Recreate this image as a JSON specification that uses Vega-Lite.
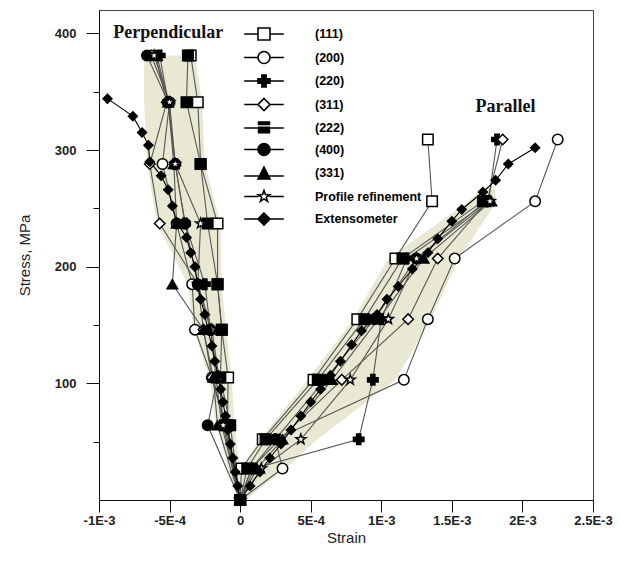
{
  "$schema": "https://vega.github.io/schema/vega-lite/v6.json",
  "autosize": "none",
  "width": 494,
  "height": 490,
  "padding": {"left": 99, "top": 10, "right": 28, "bottom": 66},
  "background": "white",
  "config": {
    "view": {"stroke": "#444", "strokeWidth": 1},
    "axis": {"grid": false, "domainColor": "#111", "tickColor": "#111", "labelFont": "Liberation Sans", "labelFontSize": 13, "labelFontWeight": "bold", "labelColor": "#222", "titleFont": "Liberation Sans", "titleFontSize": 15, "titleFontWeight": "normal", "titleColor": "#222"}
  },
  "resolve": {"scale": {"shape": "independent", "fill": "independent"}, "legend": {"shape": "independent", "fill": "independent"}},
  "datasets": {
    "band": [
      {"d": "P", "y": 0, "lo": -2e-5, "hi": 3e-5},
      {"d": "P", "y": 64, "lo": -1.7e-4, "hi": -4e-5},
      {"d": "P", "y": 105, "lo": -2.2e-4, "hi": -6e-5},
      {"d": "P", "y": 146, "lo": -3.3e-4, "hi": -1.0e-4},
      {"d": "P", "y": 185, "lo": -3.7e-4, "hi": -1.3e-4},
      {"d": "P", "y": 237, "lo": -5.9e-4, "hi": -1.4e-4},
      {"d": "P", "y": 288, "lo": -6.6e-4, "hi": -2.5e-4},
      {"d": "P", "y": 341, "lo": -6.8e-4, "hi": -2.7e-4},
      {"d": "P", "y": 381, "lo": -6.8e-4, "hi": -3.2e-4},
      {"d": "L", "y": 0, "lo": 0, "hi": 4e-5},
      {"d": "L", "y": 27, "lo": 1e-5, "hi": 3.2e-4},
      {"d": "L", "y": 52, "lo": 1.4e-4, "hi": 5.5e-4},
      {"d": "L", "y": 103, "lo": 4.8e-4, "hi": 1.1e-3},
      {"d": "L", "y": 155, "lo": 8.0e-4, "hi": 1.35e-3},
      {"d": "L", "y": 207, "lo": 1.05e-3, "hi": 1.55e-3},
      {"d": "L", "y": 256, "lo": 1.62e-3, "hi": 1.82e-3},
      {"d": "L", "y": 268, "lo": 1.72e-3, "hi": 1.8e-3}
    ],
    "txt": [
      {"t": "Perpendicular", "x": -5.1e-4, "y": 400},
      {"t": "Parallel", "x": 1.88e-3, "y": 337}
    ],
    "pts": [
      {"s": "(111)", "d": "P", "x": 0, "y": 0},
      {"s": "(111)", "d": "P", "x": -9e-5, "y": 64},
      {"s": "(111)", "d": "P", "x": -8.5e-5, "y": 105},
      {"s": "(111)", "d": "P", "x": -1.3e-4, "y": 146},
      {"s": "(111)", "d": "P", "x": -1.6e-4, "y": 185},
      {"s": "(111)", "d": "P", "x": -1.6e-4, "y": 237},
      {"s": "(111)", "d": "P", "x": -2.8e-4, "y": 288},
      {"s": "(111)", "d": "P", "x": -3.0e-4, "y": 341},
      {"s": "(111)", "d": "P", "x": -3.5e-4, "y": 381},
      {"s": "(200)", "d": "P", "x": 0, "y": 0},
      {"s": "(200)", "d": "P", "x": -1.0e-4, "y": 64},
      {"s": "(200)", "d": "P", "x": -2.0e-4, "y": 105},
      {"s": "(200)", "d": "P", "x": -3.2e-4, "y": 146},
      {"s": "(200)", "d": "P", "x": -3.4e-4, "y": 185},
      {"s": "(200)", "d": "P", "x": -4.5e-4, "y": 237},
      {"s": "(200)", "d": "P", "x": -5.5e-4, "y": 288},
      {"s": "(200)", "d": "P", "x": -5.0e-4, "y": 341},
      {"s": "(200)", "d": "P", "x": -6.3e-4, "y": 381},
      {"s": "(220)", "d": "P", "x": 0, "y": 0},
      {"s": "(220)", "d": "P", "x": -1.3e-4, "y": 64},
      {"s": "(220)", "d": "P", "x": -1.7e-4, "y": 105},
      {"s": "(220)", "d": "P", "x": -2.1e-4, "y": 146},
      {"s": "(220)", "d": "P", "x": -2.5e-4, "y": 185},
      {"s": "(220)", "d": "P", "x": -3.9e-4, "y": 237},
      {"s": "(220)", "d": "P", "x": -4.6e-4, "y": 288},
      {"s": "(220)", "d": "P", "x": -5.1e-4, "y": 341},
      {"s": "(220)", "d": "P", "x": -5.7e-4, "y": 381},
      {"s": "(311)", "d": "P", "x": 0, "y": 0},
      {"s": "(311)", "d": "P", "x": -1.1e-4, "y": 64},
      {"s": "(311)", "d": "P", "x": -2.0e-4, "y": 105},
      {"s": "(311)", "d": "P", "x": -2.6e-4, "y": 146},
      {"s": "(311)", "d": "P", "x": -3.0e-4, "y": 185},
      {"s": "(311)", "d": "P", "x": -5.7e-4, "y": 237},
      {"s": "(311)", "d": "P", "x": -6.4e-4, "y": 288},
      {"s": "(311)", "d": "P", "x": -5.2e-4, "y": 341},
      {"s": "(311)", "d": "P", "x": -6.0e-4, "y": 381},
      {"s": "(222)", "d": "P", "x": 0, "y": 0},
      {"s": "(222)", "d": "P", "x": -7e-5, "y": 64},
      {"s": "(222)", "d": "P", "x": -1.4e-4, "y": 105},
      {"s": "(222)", "d": "P", "x": -1.3e-4, "y": 146},
      {"s": "(222)", "d": "P", "x": -1.6e-4, "y": 185},
      {"s": "(222)", "d": "P", "x": -2.3e-4, "y": 237},
      {"s": "(222)", "d": "P", "x": -2.8e-4, "y": 288},
      {"s": "(222)", "d": "P", "x": -3.8e-4, "y": 341},
      {"s": "(222)", "d": "P", "x": -3.7e-4, "y": 381},
      {"s": "(400)", "d": "P", "x": 0, "y": 0},
      {"s": "(400)", "d": "P", "x": -2.3e-4, "y": 64},
      {"s": "(400)", "d": "P", "x": -1.6e-4, "y": 105},
      {"s": "(400)", "d": "P", "x": -2.1e-4, "y": 146},
      {"s": "(400)", "d": "P", "x": -3.0e-4, "y": 185},
      {"s": "(400)", "d": "P", "x": -3.9e-4, "y": 237},
      {"s": "(400)", "d": "P", "x": -4.6e-4, "y": 288},
      {"s": "(400)", "d": "P", "x": -5.1e-4, "y": 341},
      {"s": "(400)", "d": "P", "x": -6.6e-4, "y": 381},
      {"s": "(331)", "d": "P", "x": 0, "y": 0},
      {"s": "(331)", "d": "P", "x": -1.6e-4, "y": 64},
      {"s": "(331)", "d": "P", "x": -1.9e-4, "y": 105},
      {"s": "(331)", "d": "P", "x": -2.6e-4, "y": 146},
      {"s": "(331)", "d": "P", "x": -4.8e-4, "y": 185},
      {"s": "(331)", "d": "P", "x": -4.5e-4, "y": 237},
      {"s": "(331)", "d": "P", "x": -4.7e-4, "y": 288},
      {"s": "(331)", "d": "P", "x": -5.1e-4, "y": 341},
      {"s": "(331)", "d": "P", "x": -5.9e-4, "y": 381},
      {"s": "Profile refinement", "d": "P", "x": 0, "y": 0},
      {"s": "Profile refinement", "d": "P", "x": -1.2e-4, "y": 64},
      {"s": "Profile refinement", "d": "P", "x": -1.5e-4, "y": 105},
      {"s": "Profile refinement", "d": "P", "x": -2.0e-4, "y": 146},
      {"s": "Profile refinement", "d": "P", "x": -3.0e-4, "y": 185},
      {"s": "Profile refinement", "d": "P", "x": -2.8e-4, "y": 237},
      {"s": "Profile refinement", "d": "P", "x": -4.6e-4, "y": 288},
      {"s": "Profile refinement", "d": "P", "x": -5.0e-4, "y": 341},
      {"s": "Profile refinement", "d": "P", "x": -6.1e-4, "y": 381},
      {"s": "(111)", "d": "L", "x": 0, "y": 0},
      {"s": "(111)", "d": "L", "x": 1e-5, "y": 27},
      {"s": "(111)", "d": "L", "x": 1.6e-4, "y": 52},
      {"s": "(111)", "d": "L", "x": 5.2e-4, "y": 103},
      {"s": "(111)", "d": "L", "x": 8.3e-4, "y": 155},
      {"s": "(111)", "d": "L", "x": 1.10e-3, "y": 207},
      {"s": "(111)", "d": "L", "x": 1.36e-3, "y": 256},
      {"s": "(111)", "d": "L", "x": 1.33e-3, "y": 309},
      {"s": "(200)", "d": "L", "x": 0, "y": 0},
      {"s": "(200)", "d": "L", "x": 3.0e-4, "y": 27},
      {"s": "(200)", "d": "L", "x": 2.5e-4, "y": 52},
      {"s": "(200)", "d": "L", "x": 1.16e-3, "y": 103},
      {"s": "(200)", "d": "L", "x": 1.33e-3, "y": 155},
      {"s": "(200)", "d": "L", "x": 1.52e-3, "y": 207},
      {"s": "(200)", "d": "L", "x": 2.09e-3, "y": 256},
      {"s": "(200)", "d": "L", "x": 2.25e-3, "y": 309},
      {"s": "(220)", "d": "L", "x": 0, "y": 0},
      {"s": "(220)", "d": "L", "x": 1.0e-4, "y": 27},
      {"s": "(220)", "d": "L", "x": 8.4e-4, "y": 52},
      {"s": "(220)", "d": "L", "x": 9.4e-4, "y": 103},
      {"s": "(220)", "d": "L", "x": 1.0e-3, "y": 155},
      {"s": "(220)", "d": "L", "x": 1.18e-3, "y": 207},
      {"s": "(220)", "d": "L", "x": 1.76e-3, "y": 256},
      {"s": "(220)", "d": "L", "x": 1.82e-3, "y": 309},
      {"s": "(311)", "d": "L", "x": 0, "y": 0},
      {"s": "(311)", "d": "L", "x": 8e-5, "y": 27},
      {"s": "(311)", "d": "L", "x": 2.8e-4, "y": 52},
      {"s": "(311)", "d": "L", "x": 7.2e-4, "y": 103},
      {"s": "(311)", "d": "L", "x": 1.19e-3, "y": 155},
      {"s": "(311)", "d": "L", "x": 1.40e-3, "y": 207},
      {"s": "(311)", "d": "L", "x": 1.75e-3, "y": 256},
      {"s": "(311)", "d": "L", "x": 1.86e-3, "y": 309},
      {"s": "(222)", "d": "L", "x": 0, "y": 0},
      {"s": "(222)", "d": "L", "x": 5e-5, "y": 27},
      {"s": "(222)", "d": "L", "x": 1.8e-4, "y": 52},
      {"s": "(222)", "d": "L", "x": 5.5e-4, "y": 103},
      {"s": "(222)", "d": "L", "x": 8.8e-4, "y": 155},
      {"s": "(222)", "d": "L", "x": 1.15e-3, "y": 207},
      {"s": "(222)", "d": "L", "x": 1.72e-3, "y": 256},
      {"s": "(400)", "d": "L", "x": 0, "y": 0},
      {"s": "(400)", "d": "L", "x": 8e-5, "y": 27},
      {"s": "(400)", "d": "L", "x": 2.5e-4, "y": 52},
      {"s": "(400)", "d": "L", "x": 6.0e-4, "y": 103},
      {"s": "(400)", "d": "L", "x": 9.5e-4, "y": 155},
      {"s": "(400)", "d": "L", "x": 1.25e-3, "y": 207},
      {"s": "(400)", "d": "L", "x": 1.74e-3, "y": 256},
      {"s": "(331)", "d": "L", "x": 0, "y": 0},
      {"s": "(331)", "d": "L", "x": 1.2e-4, "y": 27},
      {"s": "(331)", "d": "L", "x": 3.0e-4, "y": 52},
      {"s": "(331)", "d": "L", "x": 6.5e-4, "y": 103},
      {"s": "(331)", "d": "L", "x": 9.8e-4, "y": 155},
      {"s": "(331)", "d": "L", "x": 1.30e-3, "y": 207},
      {"s": "(331)", "d": "L", "x": 1.78e-3, "y": 256},
      {"s": "Profile refinement", "d": "L", "x": 0, "y": 0},
      {"s": "Profile refinement", "d": "L", "x": 1.5e-4, "y": 27},
      {"s": "Profile refinement", "d": "L", "x": 4.3e-4, "y": 52},
      {"s": "Profile refinement", "d": "L", "x": 7.8e-4, "y": 103},
      {"s": "Profile refinement", "d": "L", "x": 1.05e-3, "y": 155},
      {"s": "Profile refinement", "d": "L", "x": 1.25e-3, "y": 207},
      {"s": "Profile refinement", "d": "L", "x": 1.77e-3, "y": 256},
      {"s": "Extensometer", "d": "P", "x": 0, "y": 0},
      {"s": "Extensometer", "d": "P", "x": -1.7e-5, "y": 12},
      {"s": "Extensometer", "d": "P", "x": -3.5e-5, "y": 24},
      {"s": "Extensometer", "d": "P", "x": -5.2e-5, "y": 36},
      {"s": "Extensometer", "d": "P", "x": -7.0e-5, "y": 48},
      {"s": "Extensometer", "d": "P", "x": -8.7e-5, "y": 60},
      {"s": "Extensometer", "d": "P", "x": -1.04e-4, "y": 72},
      {"s": "Extensometer", "d": "P", "x": -1.22e-4, "y": 84},
      {"s": "Extensometer", "d": "P", "x": -1.38e-4, "y": 95},
      {"s": "Extensometer", "d": "P", "x": -1.55e-4, "y": 107},
      {"s": "Extensometer", "d": "P", "x": -1.8e-4, "y": 119},
      {"s": "Extensometer", "d": "P", "x": -2.0e-4, "y": 132},
      {"s": "Extensometer", "d": "P", "x": -2.3e-4, "y": 146},
      {"s": "Extensometer", "d": "P", "x": -2.5e-4, "y": 159},
      {"s": "Extensometer", "d": "P", "x": -2.8e-4, "y": 172},
      {"s": "Extensometer", "d": "P", "x": -3.0e-4, "y": 183},
      {"s": "Extensometer", "d": "P", "x": -3.2e-4, "y": 200},
      {"s": "Extensometer", "d": "P", "x": -3.5e-4, "y": 212},
      {"s": "Extensometer", "d": "P", "x": -3.8e-4, "y": 225},
      {"s": "Extensometer", "d": "P", "x": -4.5e-4, "y": 238},
      {"s": "Extensometer", "d": "P", "x": -4.8e-4, "y": 252},
      {"s": "Extensometer", "d": "P", "x": -5.1e-4, "y": 266},
      {"s": "Extensometer", "d": "P", "x": -5.6e-4, "y": 278},
      {"s": "Extensometer", "d": "P", "x": -6.4e-4, "y": 290},
      {"s": "Extensometer", "d": "P", "x": -6.5e-4, "y": 304},
      {"s": "Extensometer", "d": "P", "x": -6.95e-4, "y": 315},
      {"s": "Extensometer", "d": "P", "x": -7.6e-4, "y": 329},
      {"s": "Extensometer", "d": "P", "x": -9.4e-4, "y": 344},
      {"s": "Extensometer", "d": "L", "x": 0, "y": 0},
      {"s": "Extensometer", "d": "L", "x": 7e-5, "y": 12},
      {"s": "Extensometer", "d": "L", "x": 1.4e-4, "y": 24},
      {"s": "Extensometer", "d": "L", "x": 2.1e-4, "y": 36},
      {"s": "Extensometer", "d": "L", "x": 2.9e-4, "y": 48},
      {"s": "Extensometer", "d": "L", "x": 3.6e-4, "y": 60},
      {"s": "Extensometer", "d": "L", "x": 4.3e-4, "y": 72},
      {"s": "Extensometer", "d": "L", "x": 5.0e-4, "y": 84},
      {"s": "Extensometer", "d": "L", "x": 5.7e-4, "y": 95},
      {"s": "Extensometer", "d": "L", "x": 6.4e-4, "y": 107},
      {"s": "Extensometer", "d": "L", "x": 7.1e-4, "y": 119},
      {"s": "Extensometer", "d": "L", "x": 7.9e-4, "y": 133},
      {"s": "Extensometer", "d": "L", "x": 8.6e-4, "y": 145},
      {"s": "Extensometer", "d": "L", "x": 9.7e-4, "y": 159},
      {"s": "Extensometer", "d": "L", "x": 1.04e-3, "y": 172},
      {"s": "Extensometer", "d": "L", "x": 1.12e-3, "y": 183},
      {"s": "Extensometer", "d": "L", "x": 1.22e-3, "y": 198},
      {"s": "Extensometer", "d": "L", "x": 1.33e-3, "y": 212},
      {"s": "Extensometer", "d": "L", "x": 1.40e-3, "y": 224},
      {"s": "Extensometer", "d": "L", "x": 1.50e-3, "y": 239},
      {"s": "Extensometer", "d": "L", "x": 1.57e-3, "y": 249},
      {"s": "Extensometer", "d": "L", "x": 1.72e-3, "y": 264},
      {"s": "Extensometer", "d": "L", "x": 1.81e-3, "y": 274},
      {"s": "Extensometer", "d": "L", "x": 1.90e-3, "y": 288},
      {"s": "Extensometer", "d": "L", "x": 2.09e-3, "y": 302}
    ]
  },
  "layer": [
    {
      "data": {"name": "band"},
      "mark": {"type": "area", "orient": "horizontal", "color": "#e9e8d2", "opacity": 1},
      "encoding": {
        "y": {"field": "y", "type": "quantitative", "scale": {"domain": [0, 420], "nice": false, "zero": false}},
        "x": {"field": "lo", "type": "quantitative", "scale": {"domain": [-0.001, 0.0025], "nice": false, "zero": false}},
        "x2": {"field": "hi"},
        "detail": {"field": "d"}
      }
    },
    {
      "data": {"name": "pts"},
      "mark": {"type": "line", "strokeWidth": 1.1},
      "encoding": {
        "x": {"field": "x", "type": "quantitative"},
        "y": {"field": "y", "type": "quantitative"},
        "detail": [{"field": "s"}, {"field": "d"}],
        "order": {"field": "y", "type": "quantitative"},
        "color": {"condition": {"test": "datum.s == 'Extensometer'", "value": "#000"}, "value": "#555"}
      }
    },
    {
      "data": {"name": "pts"},
      "mark": {"type": "point", "filled": true, "stroke": "black", "strokeWidth": 1.5, "opacity": 1},
      "encoding": {
        "x": {"field": "x", "type": "quantitative", "title": "Strain",
          "axis": {"values": [-0.001, -0.00075, -0.0005, -0.00025, 0, 0.00025, 0.0005, 0.00075, 0.001, 0.00125, 0.0015, 0.00175, 0.002, 0.00225, 0.0025],
            "labelExpr": "abs(round(datum.value*1e4)) % 5 != 0 ? '' : abs(datum.value) < 1e-9 ? '0' : abs(datum.value) < 9e-4 ? (datum.value < 0 ? '-' : '') + round(abs(datum.value)*1e4) + 'E-4' : (datum.value < 0 ? '-' : '') + format(abs(datum.value)*1e3, '~g') + 'E-3'",
            "tickSize": {"condition": {"test": "abs(round(datum.value*1e4)) % 5 != 0", "value": 6}, "value": 12},
            "labelPadding": 2, "titlePadding": 3, "labelFlush": false, "labelOverlap": false}},
        "y": {"field": "y", "type": "quantitative", "title": "Stress, MPa",
          "axis": {"values": [50, 100, 150, 200, 250, 300, 350, 400],
            "labelExpr": "datum.value % 100 == 0 ? datum.value : ''",
            "tickSize": {"condition": {"test": "datum.value % 100 != 0", "value": 6}, "value": 13},
            "labelPadding": 10, "titlePadding": 22, "labelOverlap": false}},
        "shape": {"field": "s", "type": "nominal",
          "scale": {"domain": ["(111)", "(200)", "(220)", "(311)", "(222)", "(400)", "(331)", "Profile refinement", "Extensometer"],
            "range": ["square", "circle", "cross", "diamond", "square", "circle", "triangle-up", "M0,-1L0.235,-0.324L0.951,-0.309L0.38,0.124L0.588,0.809L0,0.4L-0.588,0.809L-0.38,0.124L-0.951,-0.309L-0.235,-0.324Z", "diamond"]},
          "legend": null},
        "fill": {"field": "s", "type": "nominal",
          "scale": {"domain": ["(111)", "(200)", "(220)", "(311)", "(222)", "(400)", "(331)", "Profile refinement", "Extensometer"],
            "range": ["#ffffff", "#ffffff", "#000000", "#ffffff", "#000000", "#000000", "#000000", "#ffffff", "#000000"]},
          "legend": null},
        "size": {"condition": {"test": "datum.s == 'Extensometer'", "value": 80}, "value": 110}
      }
    },
    {
      "data": {"name": "pts"},
      "transform": [{"filter": "datum.y > 9999"}],
      "mark": {"type": "point", "filled": true, "stroke": "black", "strokeWidth": 1.6, "opacity": 1},
      "encoding": {
        "x": {"field": "x", "type": "quantitative"},
        "y": {"field": "y", "type": "quantitative"},
        "shape": {"field": "s", "type": "nominal",
          "scale": {"domain": ["(111)", "(200)", "(220)", "(311)", "(222)", "(400)", "(331)", "Profile refinement", "Extensometer"],
            "range": [
              "M-3.3,0H-1M1,0H3.3M-1,-1H1V1H-1Z",
              "M-3.3,0H-1M1,0H3.3M-1,0A1,1,0,1,0,1,0A1,1,0,1,0,-1,0Z",
              "M-3.3,0H3.3M-0.35,-1H0.35V-0.35H1V0.35H0.35V1H-0.35V0.35H-1V-0.35H-0.35Z",
              "M-3.3,0H-1M1,0H3.3M0,-1L1,0L0,1L-1,0Z",
              "M-3.3,0H3.3M-0.9,-0.1H0.9V0.8H-0.9ZM-0.9,-1H0.9V-0.6H-0.9Z",
              "M-3.3,0H3.3M-1,0A1,1,0,1,0,1,0A1,1,0,1,0,-1,0Z",
              "M-3.3,0.5H3.3M0,-1L1,1H-1Z",
              "M-3.3,0H-0.9M0.9,0H3.3M0,-1L0.235,-0.324L0.951,-0.309L0.38,0.124L0.588,0.809L0,0.4L-0.588,0.809L-0.38,0.124L-0.951,-0.309L-0.235,-0.324Z",
              "M-3.3,0H3.3M0,-1L1,0L0,1L-1,0Z"
            ]},
          "legend": {"title": null, "orient": "none", "legendX": 158, "legendY": 17, "padding": 0, "symbolSize": 144, "symbolStrokeWidth": 1.6, "symbolOpacity": 1, "labelFont": "Liberation Sans", "labelFontSize": 12.5, "labelFontWeight": "bold", "labelColor": "#000", "labelOffset": 44, "rowPadding": 3.5, "labelLimit": 200}},
        "fill": {"field": "s", "type": "nominal",
          "scale": {"domain": ["(111)", "(200)", "(220)", "(311)", "(222)", "(400)", "(331)", "Profile refinement", "Extensometer"],
            "range": ["#ffffff", "#ffffff", "#000000", "#ffffff", "#000000", "#000000", "#000000", "#ffffff", "#000000"]},
          "legend": null}
      }
    },
    {
      "data": {"name": "txt"},
      "mark": {"type": "text", "font": "Liberation Serif", "fontWeight": "bold", "fontSize": 18, "align": "center", "baseline": "middle", "color": "#111"},
      "encoding": {
        "x": {"field": "x", "type": "quantitative"},
        "y": {"field": "y", "type": "quantitative"},
        "text": {"field": "t"}
      }
    }
  ]
}
